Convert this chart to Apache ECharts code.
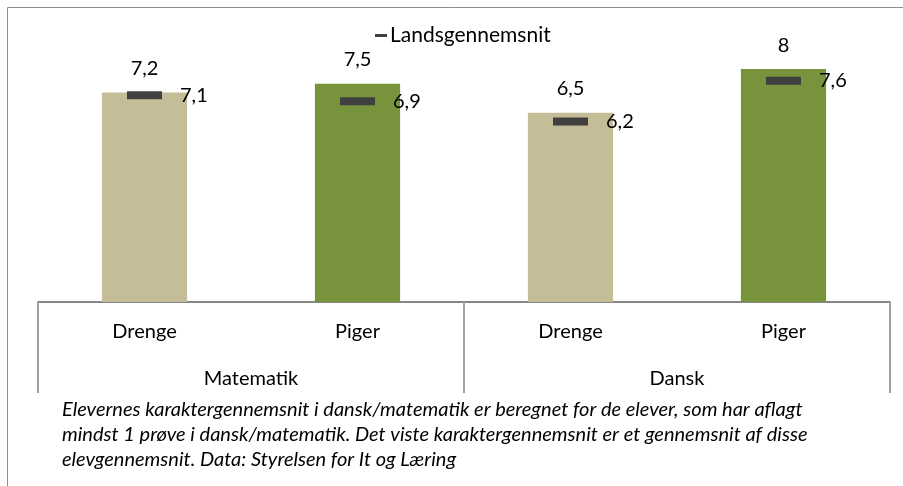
<!DOCTYPE html>
<html>
<head>
<meta charset="utf-8">
<script src="https://cdn.jsdelivr.net/npm/echarts@6/dist/echarts.min.js"></script>
<style>
  html, body { margin: 0; padding: 0; background: #fff; }
  #chart { width: 903px; height: 486px; }
</style>
</head>
<body>
<div id="chart"></div>
<script>
// data
var categories = ["Drenge", "Piger", "Drenge", "Piger"];
var groups = ["Matematik", "Dansk"];
var skoleSnit = [7.2, 7.5, 6.5, 8];
var landsSnit = [7.1, 6.9, 6.2, 7.6];
var barColors = ["#C4BD97", "#77933C", "#C4BD97", "#77933C"];
var noteText = "Elevernes karaktergennemsnit i dansk/matematik er beregnet for de elever, som har aflagt\n" +
  "mindst 1 prøve i dansk/matematik. Det viste karaktergennemsnit er et gennemsnit af disse\n" +
  "elevgennemsnit. Data: Styrelsen for It og Læring";

var fontName = "Lato";
var komma = function (p) {
  return String(p.value).replace(".", ",");
};

var chartDom = echarts.init(document.getElementById("chart"));
var option = {
  animation: false,
  textStyle: { fontFamily: fontName, color: "#000" },
  grid: { left: 38, right: 13, top: 40, bottom: 184 },
  legend: {
    data: ["Landsgennemsnit"],
    left: 370,
    top: 20,
    icon: "rect",
    itemWidth: 12,
    itemHeight: 3,
    itemGap: 4,
    itemStyle: { opacity: 1 },
    textStyle: { fontFamily: fontName, fontSize: 21, color: "#000", padding: [0, 0, 0, -2] }
  },
  xAxis: [
    {
      type: "category",
      data: categories,
      position: "bottom",
      axisLine: { show: false },
      axisTick: { show: false },
      axisLabel: { fontSize: 20, color: "#000", margin: 20, fontFamily: fontName }
    },
    {
      type: "category",
      data: groups,
      position: "bottom",
      axisLine: { show: true, lineStyle: { color: "#868686", width: 2 } },
      axisTick: { show: true, length: 91, interval: 0, lineStyle: { color: "#A0A0A0", width: 2 } },
      axisLabel: { fontSize: 20, color: "#000", margin: 67, fontFamily: fontName }
    }
  ],
  yAxis: {
    type: "value",
    min: 0,
    max: 9,
    show: false,
    splitLine: { show: false }
  },
  series: [
    {
      name: "Skole",
      type: "bar",
      xAxisIndex: 0,
      barWidth: "40%",
      data: skoleSnit.map(function (v, i) {
        return { value: v, itemStyle: { color: barColors[i] } };
      }),
      label: {
        show: true,
        position: "top",
        distance: 14,
        fontSize: 20,
        color: "#000",
        fontFamily: fontName,
        formatter: komma
      },
      z: 2
    },
    {
      name: "Landsgennemsnit",
      type: "scatter",
      xAxisIndex: 0,
      symbol: "rect",
      symbolSize: [35, 8],
      itemStyle: { color: "#404040", opacity: 1 },
      data: landsSnit,
      label: {
        show: true,
        position: "right",
        distance: 18,
        fontSize: 20,
        color: "#000",
        fontFamily: fontName,
        formatter: komma
      },
      z: 3
    }
  ],
  graphic: [
    {
      type: "rect",
      shape: { x: 7.5, y: 7.5, width: 1200, height: 1200 },
      style: { fill: null, stroke: "#8C8C8C", lineWidth: 1 },
      silent: true
    },
    {
      type: "text",
      left: 62,
      top: 397,
      style: {
        text: noteText,
        fontFamily: fontName,
        fontStyle: "italic",
        fontSize: 20,
        lineHeight: 25,
        fill: "#000"
      }
    }
  ]
};
chartDom.setOption(option);
</script>
</body>
</html>
